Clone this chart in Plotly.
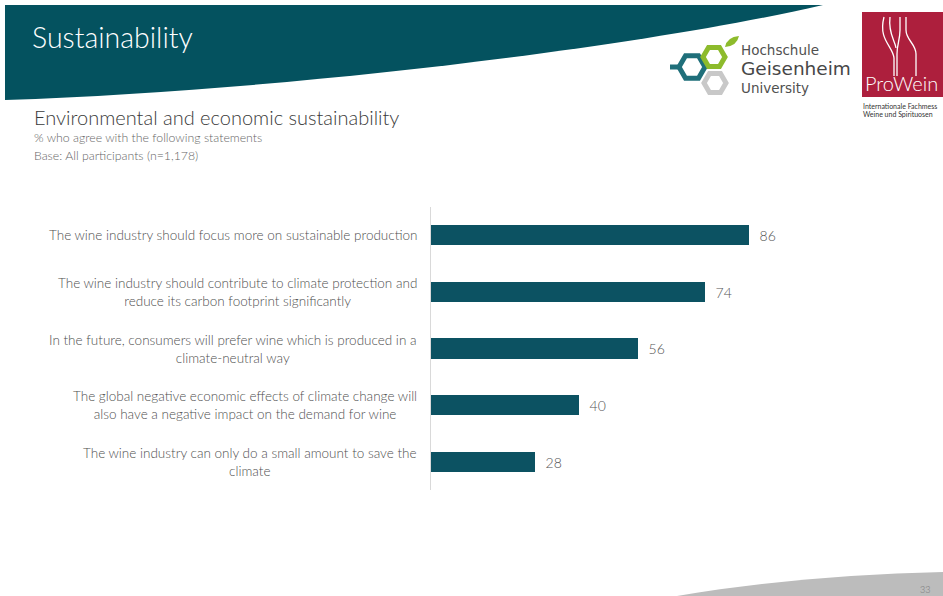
import plotly.graph_objects as go

W, H = 943, 596

categories = [
    "The wine industry should focus more on sustainable production",
    "The wine industry should contribute to climate protection and<br>reduce its carbon footprint significantly",
    "In the future, consumers will prefer wine which is produced in a<br>climate-neutral way",
    "The global negative economic effects of climate change will<br>also have a negative impact on the demand for wine",
    "The wine industry can only do a small amount to save the<br>climate",
]
values = [86, 74, 56, 40, 28]

title_text = "Sustainability"
subtitle_text = "Environmental and economic sustainability"
note1_text = "% who agree with the following statements"
note2_text = "Base: All participants (n=1,178)"
page_number = "33"

FONT = "Lato"
BAR = "#0c5262"
TEAL = "#04525f"


def X(px):
    return px / W


def Y(py):
    return 1 - py / H


def P(px, py):
    return f"{X(px):.5f},{Y(py):.5f}"


fig = go.Figure()
fig.add_trace(go.Bar(
    x=values, y=categories, orientation="h",
    marker=dict(color=BAR, line=dict(width=0)),
    width=0.355,
    text=values, texttemplate="  %{text}", textposition="outside",
    textfont=dict(family=FONT, size=14, color="#555555", weight=300),
    cliponaxis=False, hoverinfo="skip",
))

shapes = []
# header banner
shapes.append(dict(type="path", xref="paper", yref="paper",
                   path=f"M {P(5,5)} L {P(823,5)} C {P(650,45)} {P(300,90)} {P(5,100)} Z",
                   fillcolor=TEAL, line=dict(width=0), layer="below"))
# bottom swoosh
shapes.append(dict(type="path", xref="paper", yref="paper",
                   path=f"M {P(677,596)} C {P(760,582)} {P(850,574)} {P(943,572)} L {P(943,596)} Z",
                   fillcolor="#bcbcbc", line=dict(width=0), layer="below"))


def hexagon(cx, cy, r):
    pts = [(cx - r, cy), (cx - r / 2, cy - r * 0.866), (cx + r / 2, cy - r * 0.866),
           (cx + r, cy), (cx + r / 2, cy + r * 0.866), (cx - r / 2, cy + r * 0.866)]
    return "M " + " L ".join(P(a, b) for a, b in pts) + " Z"


# Geisenheim logo
shapes.append(dict(type="path", xref="paper", yref="paper", path=hexagon(715, 83, 11),
                   line=dict(color="#c8c8c8", width=5)))
shapes.append(dict(type="line", xref="paper", yref="paper", x0=X(670), y0=Y(67), x1=X(680), y1=Y(67),
                   line=dict(color="#1f6f7a", width=5)))
shapes.append(dict(type="path", xref="paper", yref="paper", path=hexagon(692, 67, 13),
                   line=dict(color="#1f6f7a", width=5)))
shapes.append(dict(type="path", xref="paper", yref="paper", path=hexagon(714, 57, 11),
                   line=dict(color="#8dbb2c", width=5)))
shapes.append(dict(type="path", xref="paper", yref="paper",
                   path=f"M {P(725,47)} Q {P(727,37)} {P(739,36)} Q {P(737,46)} {P(725,47)} Z",
                   fillcolor="#8dbb2c", line=dict(width=0)))

# ProWein logo
shapes.append(dict(type="rect", xref="paper", yref="paper", x0=X(862), y0=Y(12), x1=X(943), y1=Y(97),
                   fillcolor="#ad1f3d", line=dict(width=0)))
glass_lines = [
    f"M {P(884,17)} C {P(878,40)} {P(893,46)} {P(894,58)} L {P(894,76)}",
    f"M {P(890,17)} C {P(888,34)} {P(895,40)} {P(896,48)}",
    f"M {P(900,17)} L {P(900,30)} C {P(900,40)} {P(897,44)} {P(897,54)} L {P(897,76)}",
    f"M {P(906,17)} L {P(906,30)} C {P(906,40)} {P(916,44)} {P(916,54)} L {P(916,76)}",
]
for g in glass_lines:
    shapes.append(dict(type="path", xref="paper", yref="paper", path=g,
                       line=dict(color="white", width=1.3)))

annotations = []


def txt(text, px, py, size, color, xanchor="left", weight=300, family=FONT, align="left"):
    annotations.append(dict(text=text, xref="paper", yref="paper",
                            x=X(px), y=Y(py), xanchor=xanchor, yanchor="middle",
                            showarrow=False, borderpad=0, align=align,
                            font=dict(family=family, size=size, color=color, weight=weight)))


txt(title_text, 31, 37, 28.5, "white")
txt(subtitle_text, 33, 117, 20, "#3a3a3a")
txt(note1_text, 33, 137, 12.3, "#666666")
txt(note2_text, 33, 156, 12.3, "#666666")
txt("Hochschule", 740, 50, 13.5, "#505050", family="DejaVu Sans", weight=400)
txt("Geisenheim", 740, 69, 18.5, "#474747", family="DejaVu Sans", weight=400)
txt("University", 740, 88, 13.5, "#505050", family="DejaVu Sans", weight=400)
txt("ProWein", 864, 83, 20, "white")
txt("Internationale Fachmess", 862, 106, 7, "#333333", weight=400)
txt("Weine und Spirituosen", 862, 114, 7, "#333333", weight=400)
txt(page_number, 919, 589, 9, "#777777")

for c in categories:
    annotations.append(dict(text=c, xref="paper", yref="y", x=X(418), y=c,
                            xanchor="right", yanchor="middle", align="center", showarrow=False,
                            borderpad=0,
                            font=dict(family=FONT, size=13.5, color="#4f4f4f", weight=300)))

fig.update_layout(
    width=W, height=H, autosize=False,
    margin=dict(l=0, r=0, t=0, b=0, pad=0),
    paper_bgcolor="white", plot_bgcolor="white",
    showlegend=False, bargap=0,
    shapes=shapes, annotations=annotations,
    xaxis=dict(domain=[X(431), X(801)], range=[0, 100], visible=False, fixedrange=True),
    yaxis=dict(domain=[Y(490), Y(207)], categoryorder="array", categoryarray=categories,
               autorange="reversed", showticklabels=False, showgrid=False, zeroline=False,
               showline=True, linecolor="#d9d9d9", linewidth=1, ticks="", fixedrange=True),
    font=dict(family=FONT),
)

fig.write_html("out.html", config={"displayModeBar": False},
               post_script="document.body.style.margin='0';document.body.style.overflow='hidden';")
